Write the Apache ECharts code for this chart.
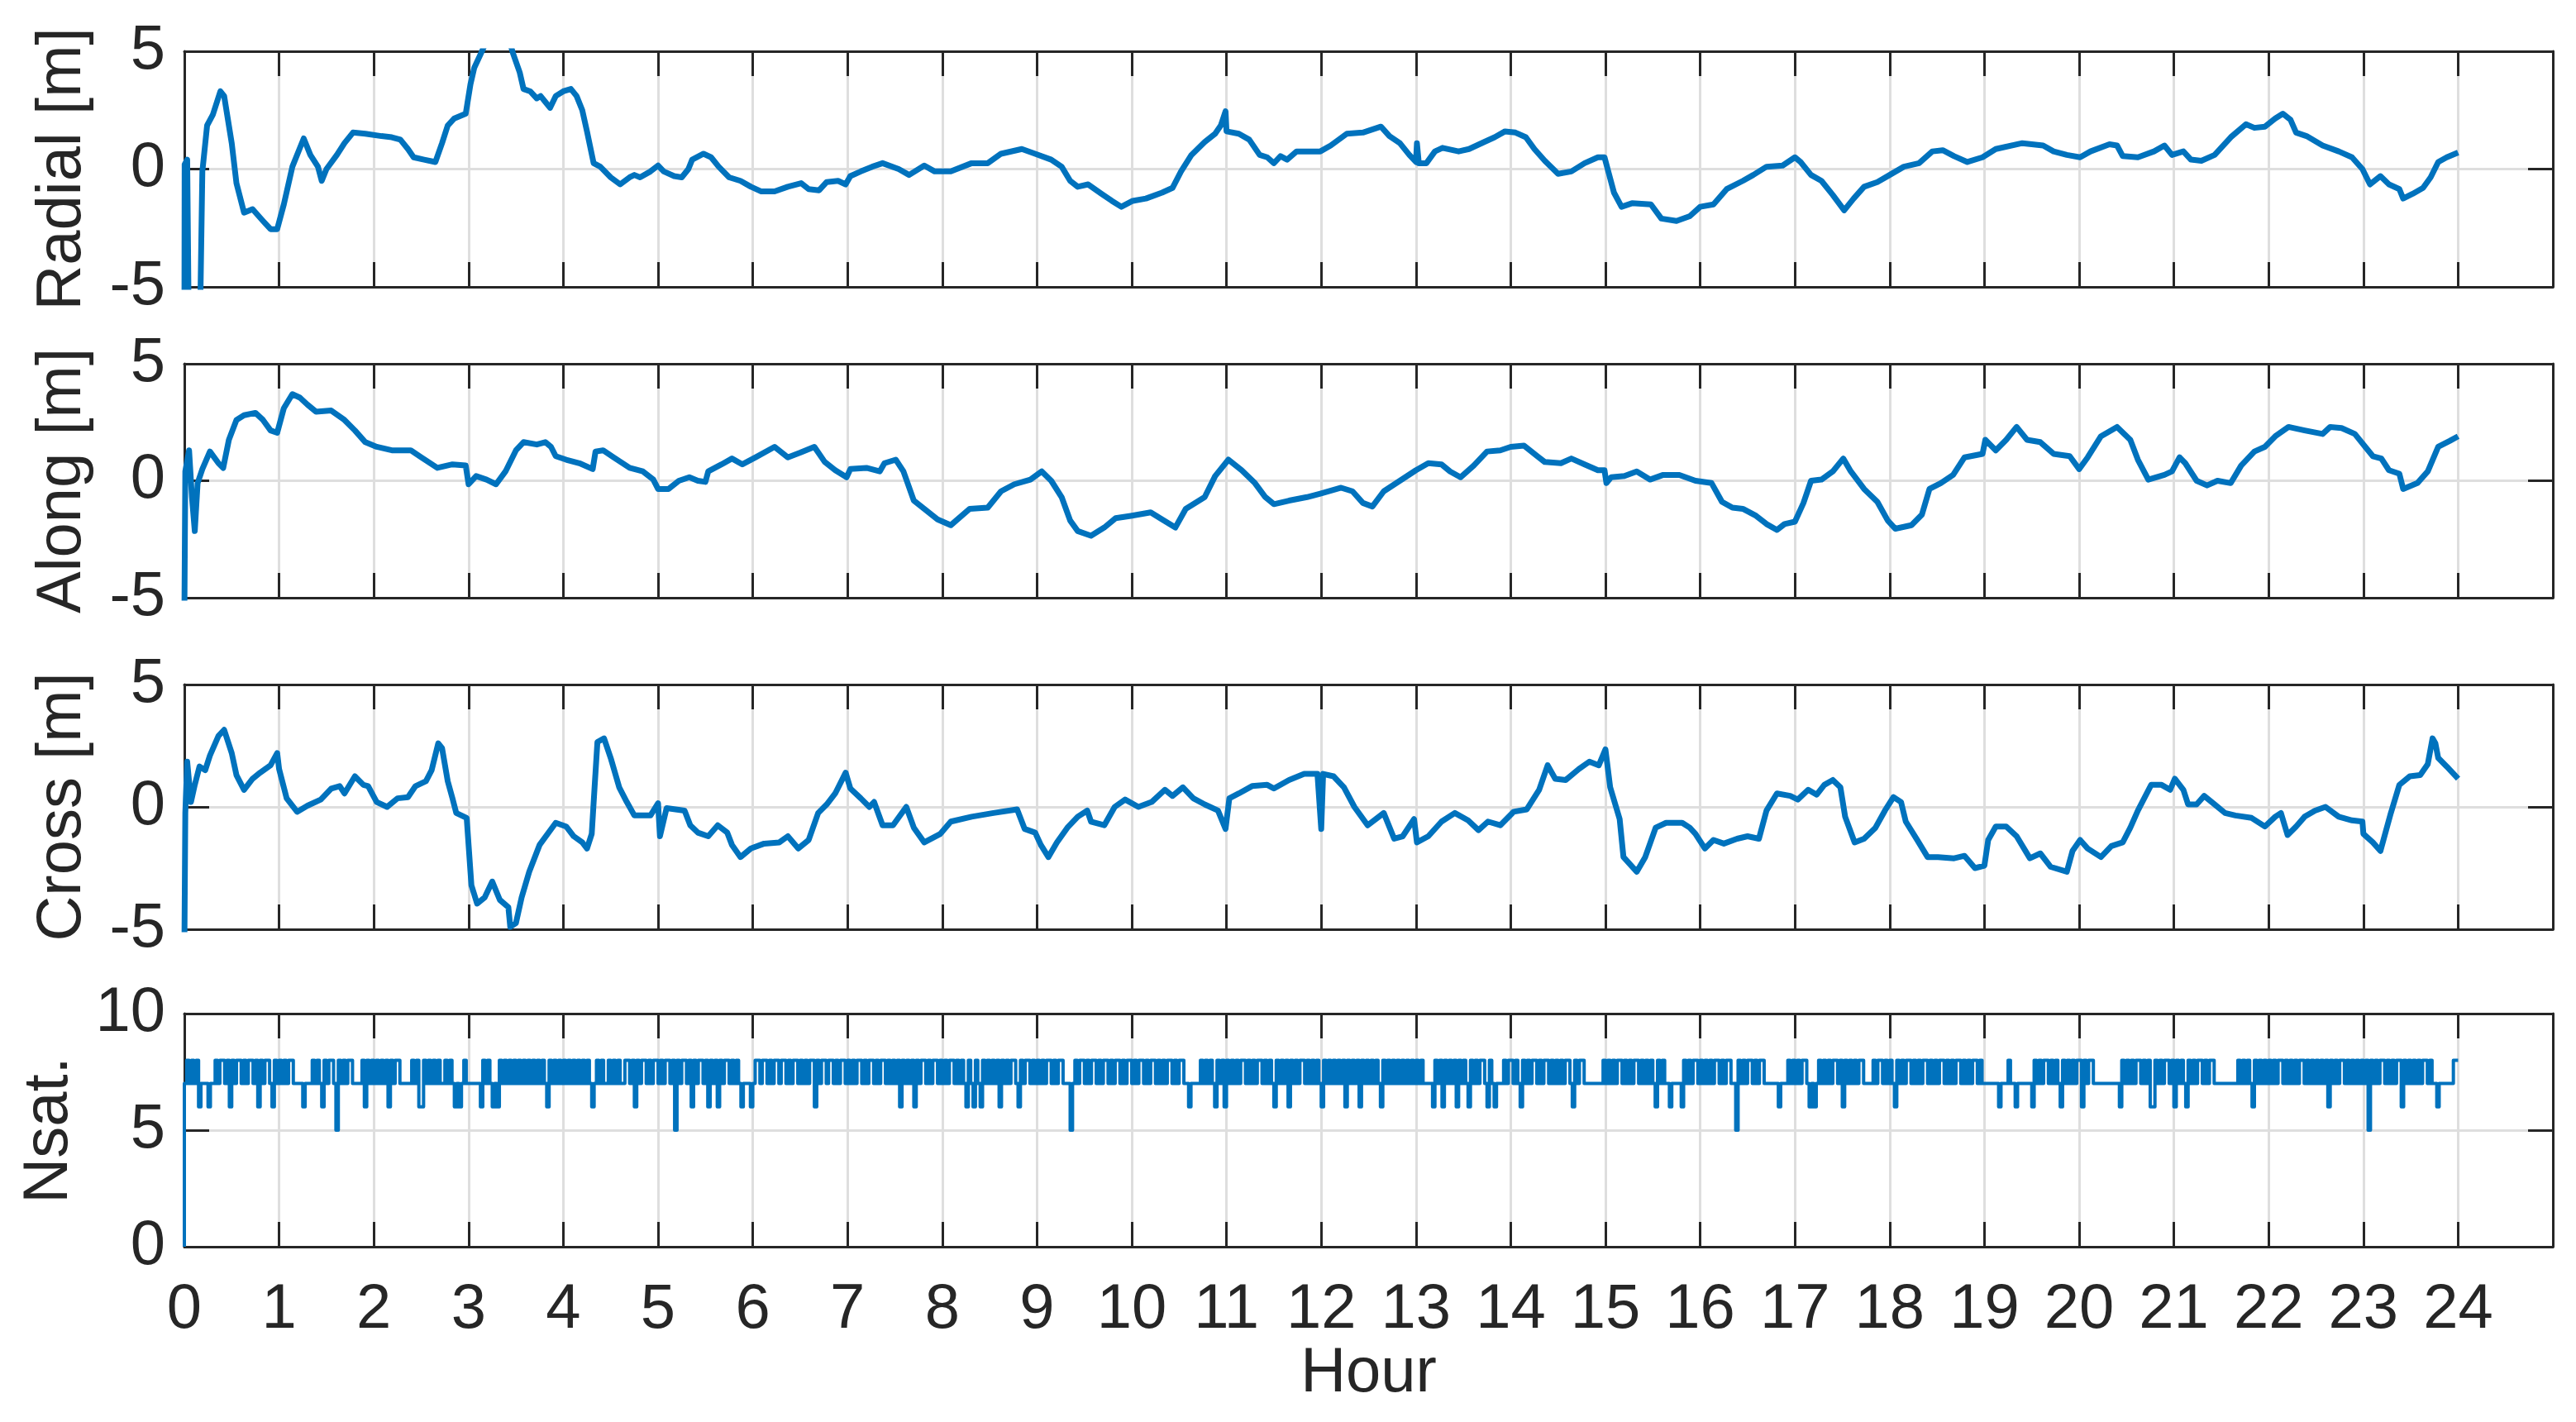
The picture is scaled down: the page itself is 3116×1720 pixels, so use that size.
<!DOCTYPE html>
<html>
<head>
<meta charset="utf-8">
<script src="https://cdn.jsdelivr.net/npm/echarts@6/dist/echarts.min.js"></script>
<style>
  html, body { margin: 0; padding: 0; background: #fff; }
  #main { width: 3116px; height: 1720px; }
</style>
</head>
<body>
<div id="main"></div>
<script>
var chart = echarts.init(document.getElementById('main'));

// panel titles and ticks
var panelNames = ['Radial [m]', 'Along [m]', 'Cross [m]', 'Nsat.'];
var hourTicks = [0, 25];            // x range, labels 0..24
var errRange = [-5, 5];
var nsatRange = [0, 10];

// [hour, metres]
var radial = [[0,-8],[0.003,0.2],[0.03,0.4],[0.05,-8],[0.16,-8],[0.19,-0.1],[0.24,1.85],[0.3,2.3],[0.38,3.3],[0.42,3.1],[0.5,1.1],[0.55,-0.6],[0.63,-1.85],[0.72,-1.7],[0.83,-2.2],[0.91,-2.55],[0.98,-2.55],[1.05,-1.5],[1.14,0.1],[1.26,1.3],[1.33,0.6],[1.41,0.1],[1.45,-0.5],[1.5,0],[1.61,0.6],[1.69,1.1],[1.78,1.55],[1.91,1.5],[2.08,1.4],[2.19,1.35],[2.28,1.25],[2.36,0.85],[2.42,0.5],[2.53,0.4],[2.65,0.3],[2.72,1.1],[2.78,1.85],[2.85,2.15],[2.97,2.35],[3.02,3.6],[3.06,4.3],[3.13,4.9],[3.22,5.7],[3.32,6.1],[3.42,5.6],[3.47,4.9],[3.54,4.1],[3.58,3.4],[3.65,3.3],[3.72,3.0],[3.76,3.1],[3.81,2.85],[3.86,2.6],[3.92,3.1],[4.0,3.3],[4.08,3.4],[4.14,3.1],[4.2,2.5],[4.25,1.6],[4.32,0.25],[4.39,0.1],[4.5,-0.35],[4.6,-0.65],[4.7,-0.35],[4.75,-0.25],[4.81,-0.35],[4.92,-0.1],[5.0,0.15],[5.06,-0.1],[5.17,-0.3],[5.25,-0.35],[5.32,0],[5.36,0.4],[5.48,0.65],[5.56,0.5],[5.64,0.1],[5.75,-0.35],[5.87,-0.5],[5.98,-0.75],[6.09,-0.95],[6.23,-0.95],[6.37,-0.75],[6.51,-0.6],[6.59,-0.85],[6.7,-0.9],[6.78,-0.55],[6.9,-0.5],[6.98,-0.65],[7.03,-0.3],[7.14,-0.1],[7.26,0.1],[7.37,0.25],[7.54,0],[7.65,-0.25],[7.81,0.15],[7.92,-0.1],[8.09,-0.1],[8.31,0.25],[8.48,0.25],[8.62,0.65],[8.84,0.85],[8.98,0.65],[9.15,0.4],[9.26,0.1],[9.35,-0.5],[9.43,-0.75],[9.54,-0.65],[9.68,-1.05],[9.79,-1.35],[9.89,-1.6],[10.01,-1.35],[10.15,-1.25],[10.32,-1.0],[10.43,-0.8],[10.52,-0.1],[10.63,0.6],[10.77,1.15],[10.88,1.5],[10.94,1.85],[10.99,2.45],[11.0,1.6],[11.13,1.5],[11.24,1.25],[11.35,0.6],[11.43,0.5],[11.5,0.25],[11.57,0.55],[11.64,0.4],[11.74,0.75],[11.88,0.75],[11.99,0.75],[12.1,1.0],[12.27,1.5],[12.44,1.55],[12.63,1.8],[12.72,1.4],[12.83,1.1],[12.93,0.6],[13.0,0.3],[13.01,1.1],[13.03,0.25],[13.11,0.25],[13.2,0.75],[13.28,0.9],[13.45,0.75],[13.56,0.85],[13.72,1.15],[13.83,1.35],[13.94,1.6],[14.05,1.55],[14.16,1.35],[14.25,0.85],[14.36,0.35],[14.5,-0.2],[14.64,-0.1],[14.78,0.25],[14.92,0.5],[14.99,0.5],[15.03,-0.1],[15.09,-1.0],[15.17,-1.6],[15.28,-1.45],[15.48,-1.5],[15.59,-2.1],[15.75,-2.2],[15.89,-2.0],[16.0,-1.6],[16.14,-1.5],[16.28,-0.85],[16.45,-0.5],[16.56,-0.25],[16.7,0.1],[16.87,0.15],[17.0,0.5],[17.06,0.3],[17.17,-0.25],[17.28,-0.5],[17.4,-1.1],[17.52,-1.75],[17.62,-1.25],[17.73,-0.75],[17.87,-0.55],[18.0,-0.25],[18.15,0.1],[18.31,0.25],[18.45,0.75],[18.56,0.8],[18.68,0.55],[18.82,0.3],[18.98,0.5],[19.12,0.85],[19.4,1.1],[19.62,1.0],[19.73,0.75],[19.87,0.6],[20.01,0.5],[20.12,0.75],[20.32,1.05],[20.4,1.0],[20.46,0.55],[20.62,0.5],[20.79,0.75],[20.9,1.0],[20.98,0.6],[21.1,0.75],[21.18,0.4],[21.29,0.35],[21.43,0.6],[21.6,1.35],[21.76,1.9],[21.85,1.75],[21.96,1.8],[22.07,2.15],[22.15,2.35],[22.23,2.1],[22.29,1.55],[22.4,1.4],[22.57,1.0],[22.74,0.75],[22.88,0.5],[22.99,0],[23.07,-0.65],[23.18,-0.3],[23.27,-0.65],[23.38,-0.85],[23.42,-1.25],[23.52,-1.05],[23.63,-0.8],[23.71,-0.35],[23.79,0.3],[23.88,0.5],[24.0,0.7]];

var along = [[0,-6],[0.01,0.4],[0.05,1.3],[0.08,-0.7],[0.11,-2.15],[0.14,-0.1],[0.19,0.5],[0.27,1.25],[0.36,0.75],[0.41,0.55],[0.47,1.75],[0.55,2.6],[0.63,2.8],[0.75,2.9],[0.83,2.6],[0.91,2.15],[0.98,2.05],[1.05,3.1],[1.14,3.7],[1.22,3.55],[1.3,3.25],[1.39,2.95],[1.55,3.0],[1.69,2.6],[1.8,2.15],[1.91,1.65],[2.03,1.45],[2.19,1.3],[2.39,1.3],[2.5,1.0],[2.67,0.55],[2.83,0.7],[2.97,0.65],[3.0,-0.15],[3.08,0.2],[3.19,0.05],[3.29,-0.15],[3.39,0.4],[3.5,1.3],[3.58,1.65],[3.72,1.55],[3.81,1.65],[3.87,1.45],[3.92,1.05],[4.03,0.9],[4.17,0.75],[4.31,0.5],[4.34,1.25],[4.42,1.3],[4.53,1.0],[4.7,0.55],[4.84,0.4],[4.95,0.05],[5.0,-0.35],[5.11,-0.35],[5.22,0],[5.33,0.15],[5.42,0],[5.5,-0.05],[5.53,0.4],[5.67,0.7],[5.78,0.95],[5.89,0.7],[6.03,1.0],[6.23,1.45],[6.37,1.0],[6.5,1.2],[6.65,1.45],[6.76,0.8],[6.87,0.45],[6.99,0.15],[7.03,0.5],[7.2,0.55],[7.34,0.4],[7.39,0.75],[7.51,0.9],[7.59,0.4],[7.7,-0.85],[7.81,-1.2],[7.95,-1.65],[8.09,-1.9],[8.29,-1.2],[8.48,-1.15],[8.62,-0.45],[8.76,-0.15],[8.93,0.05],[9.05,0.4],[9.15,0],[9.26,-0.7],[9.35,-1.7],[9.43,-2.15],[9.57,-2.35],[9.71,-2.0],[9.83,-1.6],[9.99,-1.5],[10.2,-1.35],[10.32,-1.65],[10.46,-2.0],[10.57,-1.2],[10.77,-0.7],[10.88,0.2],[11.02,0.9],[11.16,0.45],[11.3,-0.1],[11.41,-0.7],[11.5,-1.0],[11.66,-0.85],[11.85,-0.7],[11.99,-0.55],[12.21,-0.3],[12.33,-0.45],[12.44,-0.95],[12.54,-1.1],[12.66,-0.45],[12.83,0],[13.0,0.45],[13.13,0.75],[13.27,0.7],[13.36,0.4],[13.47,0.15],[13.61,0.65],[13.75,1.25],[13.89,1.3],[14.0,1.45],[14.14,1.5],[14.28,1.05],[14.36,0.8],[14.53,0.75],[14.64,0.95],[14.78,0.7],[14.92,0.45],[14.99,0.45],[15.01,-0.1],[15.06,0.15],[15.2,0.2],[15.33,0.4],[15.47,0.05],[15.61,0.25],[15.78,0.25],[15.95,0],[16.12,-0.1],[16.23,-0.9],[16.34,-1.15],[16.45,-1.2],[16.59,-1.5],[16.7,-1.85],[16.81,-2.1],[16.89,-1.85],[17.0,-1.75],[17.09,-0.95],[17.17,0],[17.28,0.05],[17.4,0.4],[17.51,0.95],[17.59,0.4],[17.73,-0.35],[17.87,-0.9],[17.98,-1.7],[18.06,-2.05],[18.23,-1.9],[18.34,-1.45],[18.42,-0.35],[18.54,-0.1],[18.67,0.25],[18.79,1.0],[18.98,1.15],[19.01,1.75],[19.12,1.3],[19.23,1.75],[19.34,2.3],[19.45,1.75],[19.59,1.65],[19.73,1.15],[19.9,1.05],[20.0,0.5],[20.09,1.0],[20.23,1.9],[20.4,2.3],[20.54,1.75],[20.62,0.9],[20.73,0.05],[20.9,0.25],[20.98,0.4],[21.06,1.0],[21.12,0.75],[21.24,0],[21.35,-0.2],[21.46,0],[21.6,-0.1],[21.71,0.65],[21.85,1.25],[21.96,1.45],[22.07,1.9],[22.21,2.3],[22.38,2.15],[22.57,2.0],[22.65,2.3],[22.77,2.25],[22.91,2.0],[23.02,1.45],[23.1,1.05],[23.19,0.95],[23.27,0.45],[23.38,0.3],[23.42,-0.35],[23.57,-0.1],[23.68,0.4],[23.79,1.45],[23.91,1.7],[24.0,1.9]];

var cross = [[0,-6],[0.01,-0.25],[0.03,1.85],[0.07,0.2],[0.11,0.9],[0.16,1.65],[0.22,1.5],[0.27,2.1],[0.36,2.9],[0.42,3.15],[0.5,2.2],[0.55,1.3],[0.63,0.7],[0.72,1.15],[0.8,1.4],[0.91,1.7],[0.98,2.2],[1.0,1.55],[1.08,0.35],[1.19,-0.2],[1.3,0.05],[1.44,0.3],[1.55,0.75],[1.64,0.85],[1.69,0.55],[1.8,1.25],[1.89,0.9],[1.94,0.85],[2.03,0.2],[2.14,0],[2.25,0.35],[2.36,0.4],[2.44,0.85],[2.55,1.05],[2.61,1.5],[2.68,2.6],[2.72,2.4],[2.78,1.05],[2.83,0.35],[2.87,-0.25],[2.98,-0.45],[3.03,-3.2],[3.09,-3.95],[3.17,-3.7],[3.25,-3.05],[3.33,-3.8],[3.42,-4.1],[3.44,-4.9],[3.5,-4.75],[3.56,-3.7],[3.64,-2.65],[3.75,-1.55],[3.92,-0.65],[4.03,-0.8],[4.11,-1.2],[4.2,-1.45],[4.25,-1.7],[4.3,-1.1],[4.33,0.8],[4.36,2.65],[4.43,2.8],[4.5,2.0],[4.59,0.8],[4.67,0.2],[4.75,-0.35],[4.92,-0.35],[5.0,0.15],[5.02,-1.2],[5.09,-0.05],[5.28,-0.15],[5.34,-0.75],[5.42,-1.05],[5.53,-1.2],[5.63,-0.75],[5.73,-1.05],[5.78,-1.55],[5.87,-2.05],[5.98,-1.7],[6.12,-1.5],[6.28,-1.45],[6.37,-1.2],[6.48,-1.7],[6.59,-1.35],[6.69,-0.25],[6.78,0.1],[6.87,0.55],[6.98,1.4],[7.03,0.75],[7.14,0.35],[7.23,0],[7.28,0.2],[7.37,-0.75],[7.48,-0.75],[7.62,0],[7.7,-0.85],[7.81,-1.45],[7.98,-1.1],[8.09,-0.6],[8.31,-0.4],[8.54,-0.25],[8.79,-0.1],[8.87,-0.9],[8.98,-1.05],[9.04,-1.55],[9.12,-2.05],[9.21,-1.45],[9.32,-0.85],[9.43,-0.4],[9.53,-0.15],[9.57,-0.6],[9.71,-0.75],[9.82,0],[9.93,0.3],[10.07,0],[10.21,0.2],[10.35,0.7],[10.43,0.45],[10.54,0.8],[10.65,0.35],[10.77,0.1],[10.91,-0.15],[10.99,-0.9],[11.03,0.35],[11.13,0.55],[11.27,0.85],[11.43,0.9],[11.5,0.75],[11.66,1.1],[11.82,1.35],[11.96,1.35],[12.0,-0.9],[12.02,1.35],[12.13,1.25],[12.24,0.8],[12.35,0],[12.49,-0.75],[12.66,-0.25],[12.77,-1.3],[12.86,-1.2],[12.98,-0.5],[13.01,-1.45],[13.13,-1.2],[13.27,-0.6],[13.41,-0.25],[13.55,-0.55],[13.66,-0.95],[13.76,-0.6],[13.89,-0.75],[14.03,-0.2],[14.17,-0.1],[14.3,0.7],[14.39,1.7],[14.47,1.15],[14.58,1.1],[14.72,1.55],[14.83,1.85],[14.93,1.7],[15.0,2.35],[15.05,0.8],[15.15,-0.5],[15.19,-2.05],[15.33,-2.65],[15.42,-2.05],[15.53,-0.85],[15.64,-0.65],[15.81,-0.65],[15.89,-0.85],[15.95,-1.1],[16.05,-1.7],[16.14,-1.35],[16.25,-1.5],[16.39,-1.3],[16.5,-1.2],[16.62,-1.3],[16.7,-0.15],[16.81,0.55],[16.95,0.45],[17.03,0.3],[17.14,0.7],[17.23,0.5],[17.31,0.9],[17.4,1.1],[17.48,0.8],[17.53,-0.4],[17.63,-1.45],[17.73,-1.3],[17.85,-0.85],[17.95,-0.15],[18.04,0.4],[18.12,0.2],[18.17,-0.6],[18.29,-1.35],[18.4,-2.05],[18.51,-2.05],[18.68,-2.1],[18.79,-2.0],[18.9,-2.5],[19.0,-2.4],[19.04,-1.35],[19.12,-0.8],[19.23,-0.8],[19.34,-1.2],[19.48,-2.1],[19.59,-1.9],[19.7,-2.45],[19.87,-2.65],[19.93,-1.8],[20.01,-1.35],[20.09,-1.7],[20.23,-2.05],[20.34,-1.6],[20.46,-1.45],[20.54,-0.85],[20.62,-0.15],[20.76,0.9],[20.87,0.9],[20.96,0.7],[21.01,1.15],[21.1,0.7],[21.15,0.1],[21.24,0.1],[21.32,0.45],[21.43,0.1],[21.54,-0.25],[21.65,-0.35],[21.82,-0.45],[21.96,-0.8],[22.07,-0.4],[22.13,-0.25],[22.2,-1.15],[22.29,-0.8],[22.38,-0.4],[22.49,-0.15],[22.6,0],[22.74,-0.4],[22.88,-0.55],[22.99,-0.6],[23.0,-1.1],[23.1,-1.45],[23.18,-1.8],[23.29,-0.25],[23.38,0.9],[23.49,1.25],[23.6,1.3],[23.68,1.75],[23.73,2.8],[23.76,2.6],[23.79,2.0],[23.88,1.65],[24.0,1.15]];

// Nsat: one string per hour, one digit per 1/40 h slot
var nsatSlotsPerHour = 40;
var nsatFirst = [0, 0];   // starts at zero satellites
var nsatRows = [
  '7878786777' + '6778788786' + '8788787887' + '8687887687',
  '8787887777' + '6777878768' + '7887587878' + '8777786878',
  '7878786878' + '8777778786' + '6878787877' + '8787676787',
  '7777768787' + '6768787878' + '7878787878' + '7876878787',
  '8787878787' + '8767878778' + '7878778878' + '6878878788',
  '7878878587' + '8878687887' + '8687868788' + '7878767776',
  '7887887878' + '8788787887' + '8787886878' + '8788787887',
  '8787887878' + '8787887878' + '7868787868' + '7887878878',
  '7878878787' + '6876876878' + '7878687878' + '8768788787',
  '8787887878' + '8777578788' + '7878878788' + '7878878788',
  '7878878788' + '7878788787' + '8877677778' + '7878768786',
  '8787878878' + '7878878787' + '6878786878' + '7887878787',
  '6878787878' + '6878786878' + '7878768787' + '8787878787',
  '8787777687' + '8687878687' + '8768787887' + '6876777878',
  '8787687878' + '8787887878' + '7878876878' + '8777777778',
  '7878788787' + '8788787878' + '7687877677' + '7768787887',
  '8787878878' + '7887758787' + '8878788777' + '7776777878',
  '7878876767' + '8787878878' + '6878787887' + '7778788787',
  '8768787887' + '8787887878' + '7887878788' + '7878788787',
  '7777776777' + '8776777777' + '6878788787' + '8768787878',
  '8687887777' + '7777777687' + '8787887878' + '6687878878',
  '6878768787' + '8878788777' + '7777777878' + '7876878787',
  '8787887878' + '7878878787' + '8787868787' + '8878787878',
  '7858787887' + '8787886878' + '7878788787' + '7677777788'
];

var nsat = [nsatFirst];
var prev = nsatFirst[1];
nsatRows.join('').split('').forEach(function (c, k) {
  var v = +c;
  var t = k / nsatSlotsPerHour;
  if (v !== prev) {
    nsat.push([t, prev], [t, v]);
    prev = v;
  }
});
nsat.push([nsatRows.length, prev]);

var ink = '#262626';
var gridGrey = '#dedede';
var blue = '#0072BD';
var font = "'Liberation Sans', Arial, Helvetica, sans-serif";
var fs = 76;

var grids = [
  { left: 223, width: 2865, top: 62, height: 285 },
  { left: 223, width: 2865, top: 440, height: 283 },
  { left: 223, width: 2865, top: 828, height: 296 },
  { left: 223, width: 2865, top: 1226, height: 282 }
];
var ranges = [errRange, errRange, errRange, nsatRange];
var nameGaps = [109, 109, 109, 125];

var xAxes = [], yAxes = [];
for (var i = 0; i < 4; i++) {
  var line = { show: true, onZero: false, lineStyle: { color: ink, width: 3 } };
  var tick = { show: true, inside: true, length: 30, lineStyle: { color: ink, width: 3 } };
  xAxes.push({
    gridIndex: i, type: 'value', position: 'bottom',
    min: hourTicks[0], max: hourTicks[1], interval: 1,
    axisLine: line, axisTick: tick,
    axisLabel: {
      show: i === 3, color: ink, fontSize: fs, fontFamily: font, margin: 39,
      formatter: function (v) { return v > 24 ? '' : String(v); }
    },
    splitLine: { show: true, lineStyle: { color: gridGrey, width: 3 } },
    name: i === 3 ? 'Hour' : '', nameLocation: 'middle', nameGap: 114,
    nameTextStyle: { color: ink, fontSize: fs, fontFamily: font }
  });
  xAxes.push({
    gridIndex: i, type: 'value', position: 'top',
    min: hourTicks[0], max: hourTicks[1], interval: 1,
    axisLine: line, axisTick: tick,
    axisLabel: { show: false }, splitLine: { show: false }
  });
  yAxes.push({
    gridIndex: i, type: 'value', position: 'left',
    min: ranges[i][0], max: ranges[i][1], interval: 5,
    axisLine: line, axisTick: tick,
    axisLabel: { color: ink, fontSize: fs, fontFamily: font, margin: 23 },
    splitLine: { show: true, lineStyle: { color: gridGrey, width: 3 } },
    name: panelNames[i], nameLocation: 'middle', nameGap: nameGaps[i],
    nameTextStyle: { color: ink, fontSize: fs, fontFamily: font }
  });
  yAxes.push({
    gridIndex: i, type: 'value', position: 'right',
    min: ranges[i][0], max: ranges[i][1], interval: 5,
    axisLine: line, axisTick: tick,
    axisLabel: { show: false }, splitLine: { show: false }
  });
}

var seriesData = [radial, along, cross, nsat];
var widths = [7, 7, 7, 4];
var series = seriesData.map(function (d, k) {
  return {
    type: 'line', xAxisIndex: k * 2, yAxisIndex: k * 2, data: d,
    showSymbol: false, symbol: 'none', clip: true, z: 3,
    lineStyle: { color: blue, width: widths[k], join: 'round' }
  };
});

option = {
  backgroundColor: '#ffffff',
  animation: false,
  grid: grids,
  xAxis: xAxes,
  yAxis: yAxes,
  series: series
};

option && chart.setOption(option);
</script>
</body>
</html>
